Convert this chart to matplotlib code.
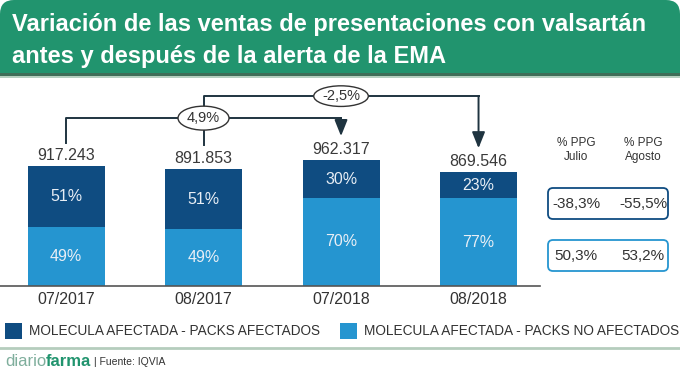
import matplotlib
matplotlib.use('Agg')
import matplotlib.pyplot as plt
from matplotlib.patches import FancyBboxPatch, Rectangle

# datos
meses = ['07/2017', '08/2017', '07/2018', '08/2018']
totales = [917243, 891853, 962317, 869546]
etiquetas_totales = ['917.243', '891.853', '962.317', '869.546']
pct_afectados = [51, 51, 30, 23]
pct_no_afectados = [49, 49, 70, 77]
variaciones = ['4,9%', '-2,5%']
ppg_cols = ['% PPG\nJulio', '% PPG\nAgosto']
ppg_afectados = ['-38,3%', '-55,5%']
ppg_no_afectados = ['50,3%', '53,2%']
leyenda = ['MOLECULA AFECTADA - PACKS AFECTADOS', 'MOLECULA AFECTADA - PACKS NO AFECTADOS']

AZUL_OSCURO = '#0f4c81'
AZUL_CLARO = '#2595d0'
VERDE = '#21946e'
GRIS = '#333333'
ARIAL = ['Liberation Sans', 'DejaVu Sans']

W, H = 680, 377
fig = plt.figure(figsize=(W / 100, H / 100), dpi=100)

# fondo con coordenadas en pixeles
bg = fig.add_axes([0, 0, 1, 1])
bg.set_xlim(0, W)
bg.set_ylim(H, 0)
bg.axis('off')

# cabecera
bg.add_patch(FancyBboxPatch((0, 0), W, 76, boxstyle='round,pad=0,rounding_size=14',
                            fc=VERDE, ec='none'))
bg.add_patch(Rectangle((0, 40), W, 34, fc=VERDE, ec='none'))
bg.add_patch(Rectangle((0, 73), W, 3, fc='#3f6e58', ec='none'))
bg.add_patch(Rectangle((0, 76), W, 2, fc='#b5d0c0', ec='none'))
bg.text(12, 25, 'Variación de las ventas de presentaciones con valsartán', color='white',
        fontsize=17, fontweight='bold', family=ARIAL, va='center')
bg.text(12, 57, 'antes y después de la alerta de la EMA', color='white',
        fontsize=17, fontweight='bold', family=ARIAL, va='center')

# tabla PPG
xs_tabla = [576, 643]
for x, t in zip(xs_tabla, ppg_cols):
    bg.text(x, 150, t, ha='center', va='center', fontsize=8.5, color=GRIS, family=ARIAL,
            linespacing=1.25)
for y0, vals, col in [(188, ppg_afectados, AZUL_OSCURO), (240, ppg_no_afectados, AZUL_CLARO)]:
    bg.add_patch(FancyBboxPatch((548, y0), 120, 31, boxstyle='round,pad=0,rounding_size=5',
                                fc='white', ec=col, lw=1.3))
    for x, v in zip(xs_tabla, vals):
        bg.text(x, y0 + 16, v, ha='center', va='center', fontsize=11, color=GRIS, family=ARIAL)

# leyenda
for x, col, t in [(5, AZUL_OSCURO, leyenda[0]), (340, AZUL_CLARO, leyenda[1])]:
    bg.add_patch(Rectangle((x, 323), 17, 16, fc=col, ec='none'))
    bg.text(x + 24, 331, t, va='center', fontsize=9.8, color=GRIS, family=ARIAL)

# pie
bg.plot([0, W], [348, 348], color='#b5cdbd', lw=2)
t1 = bg.text(5, 362, 'diario', color='#7fae9c', fontsize=12, va='center', family=ARIAL)
fig.canvas.draw()
bb = t1.get_window_extent()
t2 = bg.text(bb.x1, 362, 'farma', color=VERDE, fontsize=12, fontweight='bold', va='center',
             family=ARIAL)
bb = t2.get_window_extent()
bg.text(bb.x1 + 2, 362, '| Fuente: IQVIA', color=GRIS, fontsize=7.5, va='center', family=ARIAL)

# barras
base_px = 286
top_px = 80
ax = fig.add_axes([0, (H - base_px) / H, 540 / W, (base_px - top_px) / H])
ymax = 1575000
px = ymax / (base_px - top_px)
ax.set_ylim(0, ymax)
ax.set_xlim(-0.48, 3.447)
ax.patch.set_alpha(0)
x = range(len(meses))
claro = [t * p / 100 for t, p in zip(totales, pct_no_afectados)]
oscuro = [t - c for t, c in zip(totales, claro)]
ax.bar(x, claro, width=0.56, color=AZUL_CLARO)
ax.bar(x, oscuro, bottom=claro, width=0.56, color=AZUL_OSCURO)
for i in x:
    ax.text(i, claro[i] / 2, f'{pct_no_afectados[i]}%', ha='center', va='center',
            color='#e8eef5', fontsize=11.5, family=ARIAL)
    ax.text(i, claro[i] + oscuro[i] / 2, f'{pct_afectados[i]}%', ha='center', va='center',
            color='#e8eef5', fontsize=11.5, family=ARIAL)
    ax.text(i, totales[i] + 6 * px, etiquetas_totales[i], ha='center', va='baseline',
            color='#3a3a3a', fontsize=11.5, family=ARIAL)

for s in ['top', 'right', 'left']:
    ax.spines[s].set_visible(False)
ax.spines['bottom'].set_color('#555555')
ax.spines['bottom'].set_linewidth(1.2)
ax.set_yticks([])
ax.set_xticks(list(x))
ax.set_xticklabels(meses, fontsize=11.5, color=GRIS, family=ARIAL)
ax.tick_params(axis='x', length=0, pad=4)

# corchetes de variacion
LINEA = '#1f3440'
nivel1 = max(totales) + 42 * px
nivel2 = max(totales) + 64 * px
ax.plot([0, 0, 2], [totales[0] + 23 * px, nivel1, nivel1], color=LINEA, lw=1.4)
ax.plot([1, 1, 3], [totales[1] + 24 * px, nivel2, nivel2], color=LINEA, lw=1.4)
for i, nivel in [(2, nivel1), (3, nivel2)]:
    ax.annotate('', xy=(i, totales[i] + 24 * px), xytext=(i, nivel),
                arrowprops=dict(arrowstyle='-|>,head_length=0.75,head_width=0.3',
                                color=LINEA, lw=1.4, shrinkA=0, shrinkB=0, mutation_scale=13))
ax.text(1, nivel1, variaciones[0], ha='center', va='center', fontsize=10.5, color=GRIS,
        family=ARIAL, bbox=dict(boxstyle='ellipse,pad=0.1', fc='white', ec=GRIS, lw=1))
ax.text(2, nivel2, variaciones[1], ha='center', va='center', fontsize=10.5, color=GRIS,
        family=ARIAL, bbox=dict(boxstyle='ellipse,pad=0.02', fc='white', ec=GRIS, lw=1))

fig.savefig('out.png', dpi=100)
